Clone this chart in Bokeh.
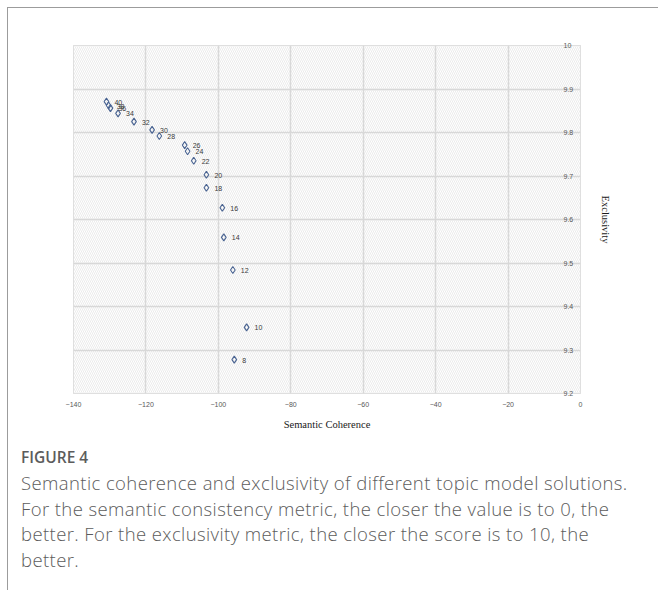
from bokeh.plotting import figure
from bokeh.models import (ColumnDataSource, LinearAxis, FixedTicker, BoxAnnotation,
                          Div, Column, Range1d)
from bokeh.core.properties import value
from bokeh.embed import file_html
from bokeh.resources import INLINE

# ---- data ----
topics = [8, 10, 12, 14, 16, 18, 20, 22, 24, 26, 28, 30, 32, 34, 36, 38, 40]
coherence = [-95.6, -92.2, -96.0, -98.5, -98.9, -103.3, -103.3, -106.8, -108.5,
             -109.3, -116.3, -118.3, -123.3, -127.7, -129.8, -130.3, -130.9]
exclusivity = [9.278, 9.352, 9.484, 9.559, 9.627, 9.673, 9.703, 9.735, 9.757,
               9.771, 9.792, 9.806, 9.825, 9.844, 9.856, 9.862, 9.871]
x_ticks = [-140, -120, -100, -80, -60, -40, -20, 0]
y_ticks = [9.2, 9.3, 9.4, 9.5, 9.6, 9.7, 9.8, 9.9, 10.0]
x_title = "Semantic Coherence"
y_title = "Exclusivity"
fig_label = "FIGURE 4"
caption_lines = [
    "Semantic coherence and exclusivity of different topic model solutions.",
    "For the semantic consistency metric, the closer the value is to 0, the",
    "better. For the exclusivity metric, the closer the score is to 10, the",
    "better.",
]

src = ColumnDataSource(dict(x=coherence, y=exclusivity,
                            lab=[str(t) for t in topics]))

p = figure(frame_width=507, frame_height=348, output_backend="svg",
           toolbar_location=None, x_range=Range1d(-140, 0),
           y_range=Range1d(9.2, 10.0), y_axis_location=None,
           min_border_left=65, min_border_right=68, min_border_top=37,
           min_border_bottom=48, background_fill_color="white",
           border_fill_color="white", outline_line_color="#d4d4d4")

# hatched plot background
p.add_layout(BoxAnnotation(fill_color="white", fill_alpha=1,
                           hatch_pattern="\\", hatch_color="#dedede",
                           hatch_scale=4, hatch_weight=0.6, hatch_alpha=1,
                           line_color=None, level="image"))

# x axis
xa = p.xaxis[0]
xa.ticker = FixedTicker(ticks=x_ticks)
xa.axis_line_color = None
xa.major_tick_line_color = None
xa.minor_tick_line_color = None
xa.major_label_text_font = "Liberation Sans"
xa.major_label_text_font_size = "7px"
xa.major_label_text_color = "#595959"
xa.major_label_standoff = 2
xa.axis_label = x_title
xa.axis_label_text_font = "Liberation Serif"
xa.axis_label_text_font_style = "normal"
xa.axis_label_text_font_size = "10.5px"
xa.axis_label_text_color = "#1a1a1a"
xa.axis_label_standoff = 9

# right y axis with labels sitting inside the frame
ya = LinearAxis(ticker=FixedTicker(ticks=y_ticks))
ya.axis_line_color = None
ya.major_tick_line_color = None
ya.minor_tick_line_color = None
ya.major_label_text_font = "Liberation Sans"
ya.major_label_text_font_size = "7px"
ya.major_label_text_color = "#595959"
ya.major_label_standoff = -23
ya.axis_label = y_title
ya.axis_label_text_font = "Liberation Serif"
ya.axis_label_text_font_style = "normal"
ya.axis_label_text_font_size = "10.5px"
ya.axis_label_text_color = "#1a1a1a"
ya.axis_label_standoff = 24
p.add_layout(ya, "right")

p.xgrid.ticker = FixedTicker(ticks=x_ticks)
p.ygrid.ticker = FixedTicker(ticks=y_ticks)
for g in (p.xgrid, p.ygrid):
    g.grid_line_color = "#d8d8d8"
    g.grid_line_width = 1.5

p.scatter("x", "y", source=src, marker="diamond", size=7, fill_color=None,
          line_color="#4a6492", line_width=1.1)
p.text("x", "y", text="lab", source=src, x_offset=8, y_offset=0.5,
       text_align="left", text_baseline="middle",
       text_font=value("Liberation Sans"), text_font_size="7px",
       text_color="#3a3a3a")

cap_html = (
    '<div style="font-family:\'Open Sans\',sans-serif;color:#5c5c5c;'
    'padding-left:8px;padding-top:1px;">'
    '<div style="font-size:15.5px;font-weight:600;line-height:20px;'
    'margin-bottom:3px;">' + fig_label + '</div>'
    '<div style="font-size:18.5px;font-weight:300;line-height:25.7px;'
    'letter-spacing:0.4px;white-space:nowrap;">'
    + "<br>".join(caption_lines) + '</div></div>'
)
cap = Div(text=cap_html, width=640, height=145)

layout = Column(children=[p, cap], spacing=0, margin=(7, 0, 0, 7),
                styles={"border-left": "1px solid #9c9c9c",
                        "border-top": "1px solid #9c9c9c",
                        "background-color": "white"})

open("out.html", "w").write(file_html(layout, INLINE))
